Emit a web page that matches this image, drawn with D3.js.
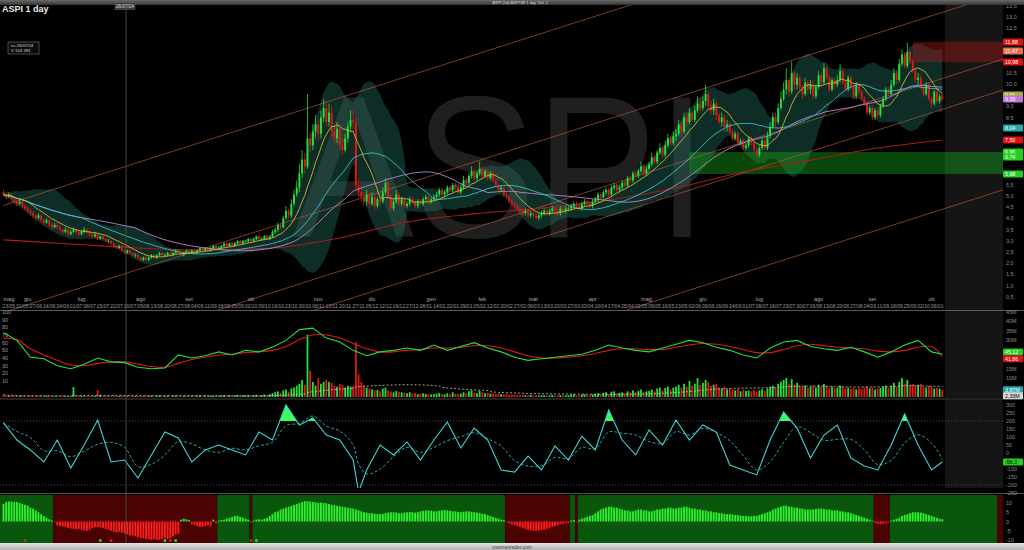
<!DOCTYPE html>
<html><head><meta charset="utf-8">
<script src="https://cdn.jsdelivr.net/npm/d3@7/dist/d3.min.js"></script>
<style>
html,body{margin:0;padding:0;background:#000;overflow:hidden;}
svg{display:block;font-family:"Liberation Sans",Arial,sans-serif;}
</style></head><body>
<svg id="chart" width="1024" height="550"></svg>
<script>
// ---------------- DATA ----------------
const firstOpen = 5.17;
const closes = [
5.07,4.96,5.07,4.86,4.75,4.65,4.75,4.55,4.44,4.34, 4.23,4.13,4.02,4.13,3.92,3.81,3.92,3.71,3.61,3.71,
3.61,3.50,3.40,3.50,3.29,3.40,3.50,3.40,3.29,3.40, 3.50,3.40,3.29,3.19,3.29,3.08,3.19,3.08,2.98,2.98,
2.88,2.77,2.67,2.77,2.56,2.46,2.56,2.46,2.36,2.36, 2.25,2.15,2.25,2.15,2.25,2.36,2.25,2.36,2.46,2.36,
2.36,2.46,2.36,2.46,2.56,2.46,2.36,2.46,2.56,2.46, 2.56,2.46,2.56,2.67,2.56,2.67,2.56,2.67,2.77,2.67,
2.67,2.77,2.88,2.77,2.88,2.77,2.88,2.98,2.88,2.98, 2.98,3.08,2.98,3.08,3.19,3.08,3.08,3.19,3.08,3.19,
3.40,3.50,3.71,3.61,4.02,4.34,4.13,4.65,5.07,5.38, 6.01,6.63,6.32,7.57,7.26,7.88,8.20,7.78,8.51,8.93,
8.30,8.72,7.88,7.57,7.99,7.26,7.05,7.57,8.09,8.40, 8.30,5.48,5.17,4.96,4.75,5.07,4.65,4.96,4.55,4.86,
4.75,5.17,5.59,4.96,4.44,4.75,5.07,4.65,4.86,4.55, 4.65,4.86,4.75,4.55,4.75,4.65,4.86,4.96,4.75,4.86,
4.96,5.07,5.28,5.07,5.17,5.38,5.28,5.48,5.38,5.17, 5.38,5.69,5.59,5.90,6.11,5.80,6.01,6.21,5.90,6.11,
5.80,6.01,5.69,5.48,5.28,5.38,5.07,4.96,4.75,4.65, 4.55,4.44,4.34,4.23,4.34,4.13,4.23,4.13,4.02,4.13,
4.23,4.34,4.23,4.34,4.44,4.34,4.23,4.44,4.34,4.44, 4.44,4.55,4.65,4.55,4.44,4.65,4.75,4.65,4.55,4.75,
4.86,5.07,4.96,5.17,5.28,5.07,5.38,5.48,5.28,5.38, 5.59,5.48,5.80,5.69,6.01,5.90,6.11,6.32,6.01,6.21,
6.42,6.73,6.53,6.94,7.15,6.84,7.26,7.57,7.36,7.67, 7.78,8.20,7.88,8.51,8.30,8.72,8.40,8.82,9.13,8.93,
9.24,9.55,9.03,8.82,9.13,8.61,8.30,8.51,8.09,8.20, 7.88,7.57,7.78,7.36,7.47,7.15,7.26,7.57,7.36,7.05,
6.84,7.15,7.47,7.15,7.67,8.09,8.51,8.30,8.93,9.34, 9.76,10.18,9.66,10.49,9.97,10.28,9.86,9.55,10.07,9.76,
9.97,9.45,9.86,10.39,10.07,10.70,10.28,9.76,10.18,9.97, 10.18,10.59,10.07,9.76,10.28,9.86,9.45,9.97,9.66,9.34,
9.13,8.72,8.93,8.51,8.82,8.61,9.03,9.34,9.76,9.55, 9.97,10.49,10.18,10.91,11.32,10.80,11.43,11.01,10.59,10.18,
10.28,9.86,9.55,9.97,9.34,9.13,9.66,9.24,9.45,9.33];
const highs = [
5.28,5.17,5.17,5.12,4.96,4.86,4.86,4.81,4.65,4.55, 4.44,4.34,4.18,4.23,4.18,4.02,4.02,3.97,3.81,3.81,
3.81,3.71,3.55,3.61,3.55,3.50,3.61,3.55,3.45,3.50, 3.61,3.55,3.45,3.35,3.40,3.35,3.24,3.24,3.14,3.08,
3.03,2.93,2.82,2.82,2.82,2.62,2.62,2.62,2.51,2.46, 2.41,2.30,2.30,2.30,2.30,2.41,2.41,2.41,2.51,2.51,
2.46,2.51,2.51,2.51,2.62,2.62,2.51,2.51,2.62,2.62, 2.62,2.62,2.62,2.72,2.72,2.72,2.72,2.72,2.82,2.82,
2.77,2.82,2.93,2.93,2.93,2.93,2.93,3.03,3.03,3.03, 3.03,3.14,3.14,3.14,3.24,3.24,3.14,3.24,3.24,3.24,
3.50,3.61,3.81,3.81,4.13,4.55,4.44,4.86,5.28,5.69, 6.42,7.05,6.94,9.55,7.88,8.20,8.61,8.40,8.82,9.34,
9.24,9.13,9.03,8.20,8.30,8.20,7.57,7.78,8.30,8.82, 8.82,8.51,5.80,5.48,5.17,5.28,5.17,5.17,5.07,4.96,
4.96,5.38,5.80,5.69,5.07,4.86,5.28,5.17,4.96,4.96, 4.75,4.96,4.96,4.86,4.86,4.86,4.96,5.07,5.07,4.96,
5.07,5.17,5.38,5.38,5.28,5.48,5.48,5.59,5.59,5.48, 5.48,5.90,5.80,6.01,6.32,6.21,6.11,6.53,6.32,6.21,
6.21,6.11,6.11,5.80,5.59,5.48,5.48,5.17,5.07,4.86, 4.75,4.65,4.55,4.44,4.44,4.44,4.34,4.34,4.23,4.23,
4.34,4.44,4.44,4.44,4.55,4.55,4.44,4.55,4.55,4.55, 4.55,4.65,4.75,4.75,4.65,4.75,4.86,4.86,4.75,4.86,
4.96,5.17,5.17,5.28,5.38,5.38,5.48,5.59,5.59,5.48, 5.69,5.69,5.90,5.90,6.11,6.11,6.21,6.53,6.42,6.32,
6.53,6.94,6.84,7.05,7.36,7.26,7.47,7.78,7.67,7.88, 7.99,8.40,8.30,8.72,8.72,8.93,8.82,9.03,9.45,9.34,
9.45,9.97,9.66,9.24,9.34,9.24,8.72,8.72,8.61,8.40, 8.30,7.99,7.88,7.88,7.57,7.57,7.36,7.67,7.67,7.47,
7.15,7.26,7.57,7.57,7.88,8.30,8.72,8.72,9.13,9.66, 10.07,10.70,10.28,11.01,10.59,10.49,10.39,9.97,10.28,10.18,
10.18,10.18,9.97,10.59,10.49,10.91,10.80,10.39,10.28,10.28, 10.39,10.91,10.70,10.18,10.39,10.39,9.97,10.07,10.07,9.76,
9.45,9.24,9.03,9.03,8.93,8.93,9.13,9.45,9.86,9.86, 10.18,10.70,10.59,11.12,11.53,11.43,11.85,11.53,11.12,10.70,
10.49,10.39,9.97,10.07,10.07,9.45,9.76,9.76,9.55,9.55];
const lows = [
4.96,4.86,4.91,4.75,4.65,4.55,4.60,4.44,4.34,4.23, 4.13,4.02,3.92,3.97,3.81,3.71,3.76,3.61,3.50,3.55,
3.50,3.40,3.29,3.35,3.19,3.24,3.35,3.29,3.19,3.24, 3.35,3.29,3.19,3.08,3.14,3.03,3.03,2.98,2.93,2.88,
2.77,2.67,2.62,2.62,2.51,2.41,2.41,2.41,2.30,2.25, 2.20,2.09,2.09,2.09,2.09,2.20,2.20,2.20,2.30,2.30,
2.30,2.30,2.30,2.30,2.41,2.41,2.30,2.30,2.41,2.41, 2.41,2.41,2.41,2.51,2.51,2.51,2.51,2.51,2.62,2.62,
2.62,2.62,2.72,2.72,2.72,2.72,2.72,2.82,2.82,2.82, 2.93,2.93,2.93,2.93,3.03,3.03,3.03,3.03,3.03,3.03,
3.14,3.29,3.40,3.50,3.55,3.92,4.02,4.02,4.55,4.96, 5.17,5.80,6.01,6.21,6.94,7.05,7.57,7.47,7.57,8.30,
8.09,8.09,7.67,7.36,7.36,7.05,6.84,6.94,7.36,7.88, 7.99,5.28,4.96,4.75,4.55,4.55,4.44,4.55,4.34,4.44,
4.55,4.65,5.07,4.86,4.34,4.34,4.65,4.55,4.55,4.44, 4.44,4.55,4.65,4.44,4.44,4.55,4.55,4.75,4.65,4.65,
4.75,4.86,4.96,4.96,4.96,5.07,5.17,5.17,5.28,5.07, 5.07,5.28,5.48,5.48,5.80,5.69,5.69,5.90,5.80,5.80,
5.69,5.69,5.59,5.38,5.17,5.17,4.96,4.86,4.65,4.55, 4.44,4.34,4.23,4.13,4.13,4.02,4.02,4.02,3.92,3.92,
4.02,4.13,4.13,4.13,4.23,4.23,4.13,4.13,4.23,4.23, 4.34,4.34,4.44,4.44,4.34,4.34,4.55,4.55,4.44,4.44,
4.65,4.75,4.86,4.86,5.07,4.96,4.96,5.28,5.17,5.17, 5.28,5.38,5.38,5.59,5.59,5.80,5.80,6.01,5.90,5.90,
6.11,6.32,6.42,6.42,6.84,6.73,6.73,7.15,7.26,7.26, 7.47,7.67,7.67,7.78,8.09,8.20,8.30,8.30,8.72,8.72,
8.82,9.03,8.82,8.61,8.61,8.40,8.20,8.09,7.88,7.88, 7.78,7.47,7.47,7.26,7.26,7.05,7.05,7.15,7.26,6.94,
6.73,6.73,7.05,7.05,7.05,7.57,7.99,8.09,8.20,8.82, 9.24,9.55,9.45,9.55,9.76,9.76,9.66,9.34,9.45,9.55,
9.55,9.34,9.34,9.76,9.86,9.97,10.18,9.66,9.66,9.76, 9.86,10.07,9.97,9.66,9.66,9.76,9.34,9.34,9.55,9.24,
9.03,8.61,8.61,8.40,8.40,8.51,8.51,8.93,9.24,9.45, 9.45,9.86,9.97,10.07,10.80,10.70,10.70,10.91,10.49,10.07,
9.97,9.76,9.45,9.45,9.24,8.93,9.03,9.13,9.13,9.24];
const volumes = [
1.2,0.8,0.6,0.9,0.7,0.5,0.6,0.8,0.5,0.6, 0.7,0.5,0.6,0.4,0.8,0.5,0.6,0.7,0.5,0.4,
0.6,0.5,0.7,0.5,0.6,0.4,5.3,0.9,0.6,0.5, 0.4,0.6,0.5,0.7,0.6,3.7,1.2,0.5,0.6,0.4,
0.5,0.7,0.6,0.5,0.8,0.6,0.5,0.4,0.6,0.5, 0.6,0.5,0.4,0.6,0.5,0.7,0.5,0.6,0.8,0.5,
0.5,0.6,0.4,0.5,0.7,0.5,0.6,0.5,0.4,0.6, 0.5,0.7,0.6,0.8,0.5,0.6,0.9,0.7,0.6,0.8,
0.6,0.8,1.0,0.7,0.9,0.6,0.8,1.1,0.7,0.9, 0.8,1.0,0.7,0.9,1.2,0.8,0.9,1.3,1.0,1.5,
2.0,2.5,3.0,2.2,3.5,4.0,2.8,4.5,5.0,6.0, 7.0,9.0,6.5,33.0,14.0,8.0,6.0,10.0,7.0,8.0,
9.0,8.0,7.5,6.0,5.5,7.0,6.5,5.0,6.0,5.5, 6.0,29.0,12.0,8.0,6.0,5.0,4.5,4.0,3.5,3.8,
3.0,4.5,5.0,3.5,3.0,2.5,3.2,2.8,2.5,2.2, 2.0,2.5,1.8,2.2,1.5,1.8,2.0,1.6,1.5,1.4,
1.5,1.8,2.2,1.6,1.4,2.0,1.5,2.5,1.8,1.6, 1.8,2.5,2.0,3.0,3.5,2.2,2.0,3.2,2.5,2.0,
2.2,1.8,2.0,1.6,1.8,1.5,1.4,1.6,1.3,1.2, 1.1,1.2,1.0,1.1,0.9,1.0,1.2,0.9,1.0,0.8,
0.9,1.0,0.8,0.9,1.1,0.8,0.9,1.0,0.8,0.9, 1.0,1.2,1.4,1.0,0.9,1.3,1.5,1.1,1.0,1.4,
1.6,2.0,1.5,2.2,2.5,1.6,2.8,3.0,2.0,2.2, 2.5,2.0,3.0,2.4,3.5,2.6,3.2,4.0,2.8,3.0,
3.2,4.0,3.0,4.5,5.0,3.5,4.8,5.5,4.0,5.0, 5.5,6.5,5.0,7.0,5.5,8.5,6.0,7.0,10.0,6.5,
7.5,9.0,8.0,6.0,6.5,7.0,5.0,4.5,5.5,4.0, 4.5,4.0,3.5,4.2,3.0,3.8,3.2,3.5,3.0,3.6,
3.0,3.5,4.0,3.2,4.5,5.5,6.0,5.0,7.0,8.0, 9.0,10.0,7.0,9.5,6.5,7.5,6.0,5.5,6.0,5.0,
5.5,6.0,5.0,6.5,5.5,7.0,6.0,5.0,5.5,4.8, 5.0,6.0,5.5,4.5,5.0,4.2,4.8,4.0,4.5,4.2,
5.0,5.5,4.5,5.0,4.0,4.5,4.8,5.5,6.0,5.0, 6.0,7.5,5.5,8.0,10.0,7.0,9.0,6.5,7.0,6.0,
6.5,7.0,5.5,5.0,6.0,5.5,4.5,5.0,4.5,3.9];
const oscValues = [
9.5,10.5,10.8,10.8,10.5,10.5,10,9.5,9,8.5, 7.5,7,6,5,4,3,2,1.2,0.6,-0.4,
-2,-2.5,-2.8,-3,-3.5,-3.8,-4,-4.2,-4,-4.5, -4.8,-5,-4.5,-3.5,-3,-3,-3.2,-3.5,-4,-4.5,
-5,-5.5,-6,-5.5,-6,-6.5,-7,-7.5,-7.5,-8, -8.5,-9,-9,-9.5,-9.5,-10,-9.5,-10,-9.8,-9.5,
-9,-9.5,-9,-8,-7,-6.5,1,1.5,1.2,0.8, -1.5,-2,-2.5,-3,-2.8,-2.5,-2,-2.5,1,-1,
0.5,0.8,1,1.5,2,2.5,3,3,2.5,2, 1.5,1,-0.5,0.5,1,1.2,1,1.5,2,3,
4,5,5.5,6.5,7,7.5,8,8.5,9,9.5, 10,10.5,11,11,10.8,10.5,10.5,10,10.2,10,
9.8,9.5,9,8.8,8.5,8.2,8,7.8,7.5,7.2, 7,6.5,6,5.5,5,4.8,4.5,4.5,4.2,4,
4,4.2,4.5,4.8,5,5,4.8,4.5,4.5,4.8, 5,5.2,5,4.8,5,5.5,5.8,6,6,5.8,
5.5,5.5,5.8,6,6.2,6,5.8,5.5,5.5,5.2, 5,5.2,5.5,5.5,5.2,5,4.8,4.5,4.2,4,
3.5,3,2.5,2,1.5,1,0.8,-0.5,-1,-1.5, -2,-2.5,-3,-3.5,-4,-4.5,-4.8,-5,-5,-4.8,
-4.5,-4.5,-4,-3.5,-3,-2.5,-2,-1.5,-1.2,-1, -0.8,0.5,0.8,-0.5,1,1.5,2,2.5,3,3.5,
4.5,5.5,6.5,7,7.5,8,8,7.5,7.5,7, 6.5,6,6,5.5,5.5,6,6.5,6.5,6,6,
5.5,5.5,6,6.5,6.5,7,7,7.5,7.5,7, 7,7.5,7.5,8,8,7.5,7,7,6.5,6.5,
6,6,5.5,5.5,5,5,4.5,4.5,4,4, 4,3.8,3.5,3.5,3.2,3,3,2.8,2.8,3,
3,3.5,4,4.5,5,5.5,6.5,7,7.5,8, 8.5,8.5,8,8,7.5,7.5,7,7,6.5,6.5,
6.5,6.5,6.8,7,7,6.8,6.5,6.5,6,6, 6,5.5,5.5,5,5,4.5,4,3.5,3,2.5,
2,1.5,1,0.5,-0.8,-1.2,-1.5,-1.2,-1,-0.5, 0.5,1,1.5,2,3,3.5,4,4.5,5,5,
5,4.8,4.5,4,3.5,3,2.5,2,1.5,1.2];
// regimes of the bottom panel: [first day, last day, 1 = bullish / 0 = bearish]
const regimes = [[0,18,1],[19,79,0],[80,91,1],[92,92,0],[93,186,1],[187,210,0],[211,212,1],[213,213,0],[214,323,1],[324,329,0],[330,349,1]];
const sellSignalDays = [8,40,62,92];
const buySignalDays = [36,60,64,94];
// 200-day average (red)
const ma200Days = [0,25,50,75,100,125,150,175,200,225,250,275,300,325,349];
const ma200Vals = [3.04,2.86,2.68,2.59,2.68,3.13,3.84,4.20,4.46,4.82,5.36,6.07,6.60,7.14,7.50];
// oscillator lines in the volume pane (0-100 scale)
const lineDays = [0,5,10,15,20,25,30,35,40,45,50,55,60,65,70,75,80,85,90,95,100,105,110,115,120,125,130,135,140,145,150,155,160,165,170,175,180,185,190,195,200,205,210,215,220,225,230,235,240,245,250,255,260,265,270,275,280,285,290,295,300,305,310,315,320,325,330,335,340,345,349];
const greenLine = [73,63,41,39,30,26,32,40,35,34,28,26,27,44,40,43,48,44,50,48,54,63,77,79,66,61,50,43,48,50,53,50,57,50,55,60,53,48,41,37,39,41,43,45,50,57,53,50,48,53,58,63,60,54,50,44,40,53,61,63,55,52,50,54,48,41,48,57,63,48,45];
const redLine = [66,64,52,44,37,31,30,33,35,35,32,29,28,33,38,41,44,45,47,48,50,55,64,70,70,66,59,52,48,48,50,51,53,53,54,56,56,53,48,43,40,40,41,43,46,50,52,52,51,51,54,57,59,58,55,51,47,47,51,56,58,56,54,53,52,49,48,50,54,55,42];
// CCI
const cciDays = [0,5,10,15,20,25,30,35,40,45,50,55,60,65,70,75,80,85,90,95,100,105,110,115,120,125,130,132,135,140,145,150,155,160,165,170,175,180,185,190,195,200,205,210,215,220,225,230,235,240,245,250,255,260,265,270,275,280,285,290,295,300,305,310,315,320,325,330,335,340,345,349];
const cciVals = [188,81,19,-56,81,-94,50,206,-56,-44,-156,-12,131,94,-56,19,50,19,-12,131,81,300,175,219,112,81,-44,-244,-106,50,-12,69,-44,81,194,31,156,81,-106,-119,-19,-106,44,-44,106,19,269,81,-12,144,50,206,81,175,131,-75,-106,-137,81,256,156,-31,112,175,-31,-81,-106,50,244,50,-106,-56];
// regression-channel lines: price at day 0 and day 372
const channelStart = [4.58,-0.2,-3.15,-4.53,-8.99];
const channelEnd = [18.86,14.08,11.13,9.75,5.29];
// support / resistance zones
const zoneStartDay = [255,338];
const zoneLow = [5.98,10.98];
const zoneHigh = [6.96,11.88];
// axis labels
const weekLabels = ["23/05","31/05","07/06","14/06","24/06","01/07","08/07","15/07","22/07","30/07","05/08","13/08","20/08","27/08","04/09","11/09","18/09","25/09","02/10","09/10","16/10","23/10","30/10","06/11","13/11","20/11","27/11","05/12","12/12","19/12","27/12","08/01","14/01","22/01","29/01","05/02","12/02","20/02","27/02","06/03","13/03","20/03","27/03","03/04","10/04","17/04","25/04","02/05","09/05","16/05","23/05","02/06","09/06","16/06","24/06","01/07","08/07","16/07","23/07","30/07","06/08","13/08","20/08","27/08","04/09","11/09","18/09","25/09","02/10","09/10"];
const monthNames = ["mag","giu","lug","ago","set","ott","nov","dic","gen","feb","mar","apr","mag","giu","lug","ago","set","ott"];
const monthDays = [2,9,29,51,69,92,117,137,159,178,197,219,239,260,281,303,323,345];
const priceTicks = [13.5,13,12.5,12,11.5,11,10.5,10,9.5,9,8.5,8,7.5,7,6.5,6,5.5,5,4.5,4,3.5,3,2.5,2,1.5,1,0.5];
const volTicks = [45,40,35,30,25,20,15,10,5];
const pctTicks = [100,90,80,70,60,50,40,30,20,10];
const cciTicks = [300,250,200,150,100,50,0,-50,-100,-150,-200,-250];
const oscTicks = [10,5,0,-5,-10];
const priceTags = [[11.88,"#e01010","11,88"],[11.47,"#e8704c","11,47"],[10.98,"#e01010","10,98"],[9.51,"#a8a832","9,51"],[9.33,"#c274d6","9,33"],[8.04,"#26a6a6","8,04"],[7.50,"#e01010","7,50"],[6.96,"#22d022","6,96"],[6.74,"#22d022","6,74"],[5.98,"#22d022","5,98"]];
const volTags = [[48,"#22d022","45,12"],[39,"#e01010","41,86"]];
const volumeTags = [[3.9,"#26a6a6","3,87M"],[0.6,"#d8d8d8","2,33M"]];
const cciTag = [-56,"#22d022","-56,2"];

// ---------------- CHART ----------------
const N = closes.length;
const svg = d3.select('#chart');
const defs = svg.append('defs');
function clip(id,x,y,w,h){defs.append('clipPath').attr('id',id).append('rect').attr('x',x).attr('y',y).attr('width',w).attr('height',h);}
const RIGHT = 1003;
clip('cp',0,5,RIGHT,305); clip('cv',0,311,RIGHT,87); clip('cc',0,400,RIGHT,88); clip('co',0,495,RIGHT,48);

const x = d3.scaleLinear().domain([0, N-1]).range([3.5, 3.5 + 2.69*(N-1)]);
const yP = d3.scaleLinear().domain([0.5, 13.5]).range([296.8, 5.6]);
const yPct = d3.scaleLinear().domain([0,100]).range([388.7, 312]);
const yVol = d3.scaleLinear().domain([0,45]).range([397, 312]);
const yC = d3.scaleLinear().domain([-250,300]).range([493, 405]);
const yO = d3.scaleLinear().domain([-10,10]).range([540, 503]);
const futureX = x(N-1) + 2.5;

svg.append('rect').attr('width',1024).attr('height',550).attr('fill','#000');

const opens = closes.map((c,i)=> i ? closes[i-1] : firstOpen);
function sma(a,n){return a.map((_,i)=>d3.mean(a.slice(Math.max(0,i-n+1),i+1)));}
function sdev(a,n){return a.map((_,i)=>{const s=a.slice(Math.max(0,i-n+1),i+1);return s.length>1?d3.deviation(s):0;});}
const ma10 = sma(closes,10), ma20 = sma(closes,20), ma30 = sma(closes,30), ma50 = sma(closes,50);
const sd20 = sdev(closes,20);
const bbU = ma20.map((m,i)=>m+2*sd20[i]), bbL = ma20.map((m,i)=>m-2*sd20[i]);

// ---------- price pane ----------
const gp = svg.append('g').attr('clip-path','url(#cp)');
gp.append('rect').attr('x',futureX).attr('y',5).attr('width',RIGHT-futureX).attr('height',305).attr('fill','#151515');
gp.append('text').attr('transform','translate(500,237) scale(0.9,1)').attr('text-anchor','middle').attr('font-size',202)
  .attr('fill','#9a9a9a').attr('opacity',0.2).text('ASPI');
gp.append('path').datum(d3.range(N)).attr('fill','rgba(38,125,108,0.36)')
  .attr('d', d3.area().x(i=>x(i)).y0(i=>yP(bbL[i])).y1(i=>yP(bbU[i])));
zoneStartDay.forEach((d,k)=>{
  gp.append('rect').attr('x',x(d)).attr('width',RIGHT-x(d)).attr('y',yP(zoneHigh[k])).attr('height',yP(zoneLow[k])-yP(zoneHigh[k]))
    .attr('fill', k===0 ? 'rgba(24,170,24,0.42)' : 'rgba(170,24,24,0.42)');
});
channelStart.forEach((s,k)=>{
  gp.append('line').attr('x1',x(0)).attr('y1',yP(s)).attr('x2',x(372)).attr('y2',yP(channelEnd[k]))
    .attr('stroke','#b8583a').attr('stroke-width',0.8).attr('opacity',0.85);
});
gp.append('path').datum(ma200Days.map((d,k)=>[d,ma200Vals[k]])).attr('fill','none').attr('stroke','#a81c1c').attr('stroke-width',1.1)
  .attr('d', d3.line().x(d=>x(d[0])).y(d=>yP(d[1])).curve(d3.curveMonotoneX));
const cg = gp.append('g');
d3.range(N).forEach(i=>{
  const o=opens[i], c=closes[i], up=c>=o, col=up?'#22e23a':'#e01818';
  const hi=Math.max(highs[i],o,c), lo=Math.min(lows[i],o,c);
  cg.append('line').attr('x1',x(i)).attr('x2',x(i)).attr('y1',yP(hi)).attr('y2',yP(lo)).attr('stroke',col).attr('stroke-width',0.8);
  const y1=yP(Math.max(o,c)), y2=yP(Math.min(o,c));
  cg.append('rect').attr('x',x(i)-0.95).attr('width',1.9).attr('y',y1).attr('height',Math.max(0.8,y2-y1)).attr('fill',col);
});
[[ma50,'#b88ad0'],[ma30,'#3cc2cc'],[ma10,'#cdb640']].forEach(([arr,col])=>{
  gp.append('path').datum(d3.range(N)).attr('fill','none').attr('stroke',col).attr('stroke-width',0.9)
    .attr('d', d3.line().x(i=>x(i)).y(i=>yP(arr[i])));
});
monthNames.forEach((m,k)=>svg.append('text').attr('x',x(monthDays[k])).attr('y',301).attr('font-size',5.5).attr('fill','#aaa').attr('text-anchor','middle').text(m));
weekLabels.forEach((w,k)=>svg.append('text').attr('x',x(2+5*k)).attr('y',307.5).attr('font-size',5).attr('fill','#999').attr('text-anchor','middle').text(w));

[[310.5,'#5a5a5a'],[399,'#444'],[493.5,'#555']].forEach(([y,c])=>svg.append('line').attr('x1',0).attr('x2',1024).attr('y1',y).attr('y2',y).attr('stroke',c).attr('stroke-width',1));

// ---------- volume pane ----------
const gv = svg.append('g').attr('clip-path','url(#cv)');
gv.append('rect').attr('x',futureX).attr('y',311).attr('width',RIGHT-futureX).attr('height',87).attr('fill','#151515');
d3.range(N).forEach(i=>{
  const up = closes[i]>=opens[i];
  gv.append('rect').attr('x',x(i)-0.9).attr('width',1.8).attr('y',yVol(volumes[i])).attr('height',Math.max(0.6,yVol(0)-yVol(volumes[i])))
    .attr('fill', up ? '#22e23a' : '#e01818');
});
const vma = sma(volumes,50);
gv.append('path').datum(d3.range(N)).attr('fill','none').attr('stroke','#cfcfcf').attr('stroke-width',0.8).attr('stroke-dasharray','2,2')
  .attr('d', d3.line().x(i=>x(i)).y(i=>yVol(vma[i])));
gv.append('path').datum(lineDays.map((d,k)=>[d,redLine[k]])).attr('fill','none').attr('stroke','#e01818').attr('stroke-width',1.1)
  .attr('d', d3.line().x(d=>x(d[0])).y(d=>yPct(d[1])).curve(d3.curveCatmullRom));
gv.append('path').datum(lineDays.map((d,k)=>[d,greenLine[k]])).attr('fill','none').attr('stroke','#22e23a').attr('stroke-width',1.1)
  .attr('d', d3.line().x(d=>x(d[0])).y(d=>yPct(d[1])));
pctTicks.forEach(v=>svg.append('text').attr('x',2).attr('y',yPct(v)+2).attr('font-size',5.5).attr('fill','#999').text(v));

// ---------- CCI pane ----------
const gc = svg.append('g').attr('clip-path','url(#cc)');
gc.append('rect').attr('x',futureX).attr('y',400).attr('width',RIGHT-futureX).attr('height',88).attr('fill','#151515');
[200,-200].forEach(v=>gc.append('line').attr('x1',0).attr('x2',RIGHT).attr('y1',yC(v)).attr('y2',yC(v)).attr('stroke','#4a4a4a').attr('stroke-dasharray','1,2'));
const cciPts = cciDays.map((d,k)=>[d,cciVals[k]]);
defs.append('clipPath').attr('id','cciTop').append('rect').attr('x',0).attr('y',400).attr('width',RIGHT).attr('height',yC(200)-400);
gc.append('path').datum(cciPts).attr('clip-path','url(#cciTop)').attr('fill','#3cff5a')
  .attr('d', d3.area().x(d=>x(d[0])).y0(yC(200)).y1(d=>yC(d[1])));
const sig = cciVals.map((_,k)=>d3.mean(cciVals.slice(Math.max(0,k-2),k+1)));
gc.append('path').datum(cciDays.map((d,k)=>[d,sig[k]])).attr('fill','none').attr('stroke','#2fb8b0').attr('stroke-width',0.9).attr('stroke-dasharray','3,2')
  .attr('d', d3.line().x(d=>x(d[0])).y(d=>yC(d[1])).curve(d3.curveCatmullRom));
gc.append('path').datum(cciPts).attr('fill','none').attr('stroke','#3cd6d6').attr('stroke-width',1.1)
  .attr('d', d3.line().x(d=>x(d[0])).y(d=>yC(d[1])));

// ---------- oscillator pane ----------
const go = svg.append('g').attr('clip-path','url(#co)');
regimes.forEach(([a,b,t],k)=>{
  const x0 = k===0 ? 0 : x(a)-1.345, x1 = k===regimes.length-1 ? RIGHT : x(b)+1.345;
  go.append('rect').attr('x',x0).attr('y',495).attr('width',x1-x0).attr('height',48).attr('fill', t ? '#0a560c' : '#4a0202');
});
go.append('rect').attr('x',997).attr('y',495).attr('width',6).attr('height',48).attr('fill','#4a0202');
d3.range(N).forEach(i=>{
  const v = oscValues[i];
  go.append('rect').attr('x',x(i)-0.95).attr('width',1.9).attr('y',Math.min(yO(0),yO(v))).attr('height',Math.abs(yO(v)-yO(0)))
    .attr('fill', v>=0 ? '#2cf02c' : '#ff1c1c');
});
sellSignalDays.forEach(d=>go.append('path').attr('d',`M${x(d)-1.5},540.5h3M${x(d)},539v3`).attr('stroke','#ff2a2a').attr('stroke-width',0.9));
buySignalDays.forEach(d=>go.append('rect').attr('x',x(d)-1.2).attr('y',539.3).attr('width',2.4).attr('height',2.4).attr('fill','#2cf02c'));

// ---------- right axis ----------
function tagYs(list,scale){return list.map(t=>scale(t[0]));}
const fmt = d3.format('.1f');
function ticks(vals,scale,lab,tagY){
  vals.forEach(v=>{
    const y = scale(v);
    if (tagY.some(t=>Math.abs(t-y)<6)) return;
    svg.append('text').attr('x',1006).attr('y',y+2).attr('font-size',5.5).attr('fill','#8c8c8c').text(lab(v));
  });
}
const volTagY = tagYs(volTags,yPct).concat(tagYs(volumeTags,yVol));
ticks(priceTicks,yP,v=>fmt(v).replace('.',','),tagYs(priceTags,yP));
ticks(volTicks,yVol,v=>v+'M',volTagY);
ticks(cciTicks,yC,v=>v,[yC(cciTag[0]),399]);
ticks(oscTicks,yO,v=>v,[]);
function tag(y,col,txt,tc){
  svg.append('rect').attr('x',1003).attr('y',y-3.5).attr('width',20).attr('height',7).attr('rx',1).attr('fill',col);
  svg.append('text').attr('x',1005).attr('y',y+2).attr('font-size',5.3).attr('fill',tc||'#fff').text(txt);
}
priceTags.forEach(([v,c,t])=>tag(yP(v),c,t));
volTags.forEach(([v,c,t])=>tag(yPct(v),c,t));
volumeTags.forEach(([v,c,t])=>tag(yVol(v),c,t, c==='#d8d8d8'?'#000':'#fff'));
tag(yC(cciTag[0]),cciTag[1],cciTag[2],'#000');

// ---------- top / bottom bars, crosshair ----------
const tg = defs.append('linearGradient').attr('id','tb').attr('x1',0).attr('x2',0).attr('y1',0).attr('y2',1);
tg.append('stop').attr('offset',0).attr('stop-color','#6a6a6a'); tg.append('stop').attr('offset',1).attr('stop-color','#333');
svg.append('rect').attr('x',0).attr('y',0).attr('width',1024).attr('height',5).attr('fill','url(#tb)');
svg.append('text').attr('x',520).attr('y',3.8).attr('text-anchor','middle').attr('font-size',4).attr('fill','#ddd').text('ASPI (1d) ASPI.MI  1 day  Tick 1');
const bgr = defs.append('linearGradient').attr('id','bb').attr('x1',0).attr('x2',0).attr('y1',0).attr('y2',1);
bgr.append('stop').attr('offset',0).attr('stop-color','#e4e4e4'); bgr.append('stop').attr('offset',1).attr('stop-color','#b4b4b4');
svg.append('rect').attr('x',0).attr('y',543).attr('width',1024).attr('height',7).attr('fill','url(#bb)');
svg.append('text').attr('x',512).attr('y',548.5).attr('text-anchor','middle').attr('font-size',5).attr('fill','#444').text('mezmetrader.com');

svg.append('line').attr('x1',126).attr('x2',126).attr('y1',5).attr('y2',543).attr('stroke','#555').attr('stroke-width',0.8);
svg.append('rect').attr('x',115).attr('y',2.5).attr('width',20).attr('height',7).attr('fill','#3a3a3a').attr('stroke','#666').attr('stroke-width',0.5);
svg.append('text').attr('x',125).attr('y',7.8).attr('text-anchor','middle').attr('font-size',4.6).attr('fill','#ddd').text('26/07/24');

svg.append('text').attr('x',2).attr('y',12).attr('font-size',9).attr('font-weight','bold').attr('fill','#e8e8e8').text('ASPI 1 day');
svg.append('rect').attr('x',8).attr('y',42).attr('width',31).attr('height',12).attr('fill','#0c0c0c').attr('stroke','#777').attr('stroke-width',0.6);
svg.append('text').attr('x',11).attr('y',47.2).attr('font-size',4.3).attr('fill','#ddd').text('vs 26/07/24');
svg.append('text').attr('x',11).attr('y',52.2).attr('font-size',4.3).attr('fill','#ddd').text('V  103 281');
</script></body></html>
